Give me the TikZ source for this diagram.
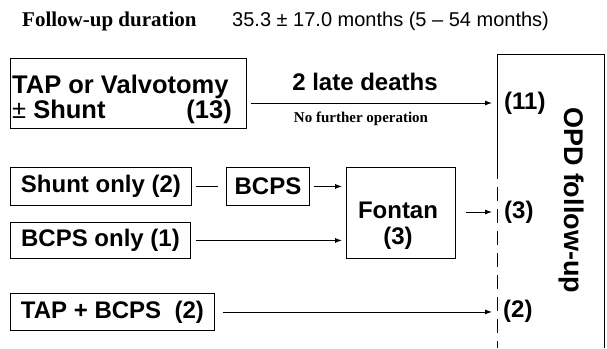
\documentclass[tikz,border=0pt]{standalone}
\usepackage{fontspec}
\setmainfont{Liberation Sans}
\newfontfamily\serifb{Liberation Serif}
\usetikzlibrary{arrows.meta}
\tikzset{
  box/.style={draw, line width=0.9pt, inner sep=0pt, anchor=north west, font=\fontsize{24}{28}\selectfont\bfseries},
  lbl/.style={inner sep=0pt, font=\fontsize{24}{28}\selectfont\bfseries},
  biglbl/.style={inner sep=0pt, font=\fontsize{25.5}{30}\selectfont\bfseries},
  arr/.style={line width=0.9pt, -{Latex[length=7pt,width=5pt]}},
  conn/.style={line width=0.9pt},
}
\begin{document}
\begin{tikzpicture}[x=1pt,y=-1pt]
\useasboundingbox (0,0) rectangle (607,348);
% title
\node[anchor=base west, inner sep=0pt, font=\serifb\fontsize{21}{24}\selectfont\bfseries] (t1) at (22,27) {Follow-up duration};
\node[anchor=base west, inner sep=0pt, font=\fontsize{20}{24}\selectfont] (t2) at (232,27) {35.3 ± 17.0 months (5 – 54 months)};
% OPD box
\coordinate (opdL) at (497,54);
\coordinate (opdR) at (604,54);
\draw[conn] (497,165) -- (opdL) -- (opdR) -- (604,348);
\draw[conn, dash pattern=on 14pt off 8pt] (497,165) -- (497,348);
\node[inner sep=0pt, font=\fontsize{27}{30}\selectfont\bfseries, rotate=-90] (opd) at (571,200) {OPD follow-up};
\node[lbl, anchor=west] (n11) at (504,103) {(11)};
\node[lbl, anchor=west] (n3) at (504,212) {(3)};
\node[lbl, anchor=west] (n2) at (503,311) {(2)};
% box 1
\node[box, minimum width=236pt, minimum height=70pt] (b1) at (10,58) {};
\node[biglbl, anchor=base west] (b1a) at (12,93) {TAP or Valvotomy};
\node[biglbl, anchor=base west] (b1b) at (12,118) {{\mdseries ±} Shunt};
\node[biglbl, anchor=base east] (b1c) at (232,118) {(13)};
\node[lbl, anchor=base] (dth) at (365,90) {2 late deaths};
\node[anchor=base, inner sep=0pt, font=\serifb\fontsize{15}{17}\selectfont\bfseries] (nfo) at (361,122) {No further operation};
\draw[arr, shorten <=4pt, shorten >=5pt] (b1.east |- n11) -- (opdL |- n11);
% middle rows
\node[box, minimum width=181pt, minimum height=38pt] (so) at (10,167) {Shunt only (2)};
\node[box, minimum width=83pt, minimum height=38pt] (bc) at (226,167) {BCPS};
\node[box, minimum width=109pt, minimum height=91pt] (fo) at (346,167) {};
\node[lbl, anchor=base] (foa) at (398,218) {Fontan};
\node[lbl] (fob) at (398,238) {(3)};
\node[box, minimum width=180pt, minimum height=36pt] (bo) at (10,222) {BCPS only (1)};
\draw[conn, shorten <=4pt, shorten >=8pt] (so.east) -- (bc.west);
\draw[arr, shorten <=4pt, shorten >=4pt] (bc.east) -- (fo.west |- bc.east);
\draw[arr, shorten <=5pt, shorten >=4pt] (bo.east) -- (fo.west |- bo.east);
\draw[arr, shorten <=10pt, shorten >=5pt] (fo.east |- n3) -- (opdL |- n3);
% bottom row
\node[box, minimum width=204pt, minimum height=37pt] (tb) at (10,293) {TAP + BCPS\ \ (2)};
\draw[arr, shorten <=8pt, shorten >=5pt] (tb.east) -- (opdL |- tb.east);
\end{tikzpicture}
\end{document}
